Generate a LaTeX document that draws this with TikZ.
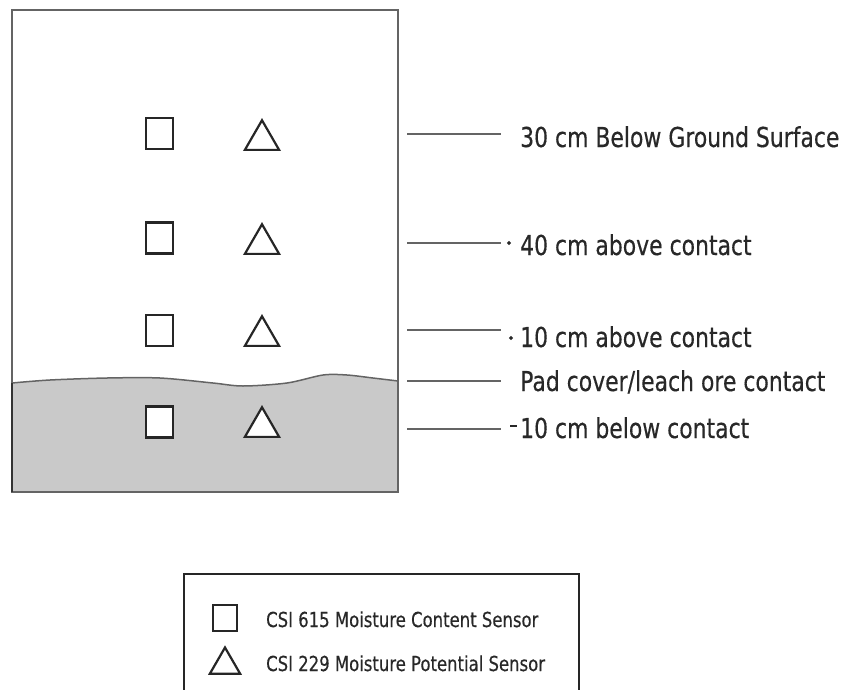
\documentclass[tikz,border=0pt]{standalone}
\usepackage{fontspec}
\setmainfont{DejaVu Sans}
\newfontfamily\labfont[FakeStretch=0.8,FakeBold=0.4]{DejaVu Sans}
\usetikzlibrary{shapes.geometric}
\definecolor{ground}{RGB}{201,201,201}
\definecolor{edge}{RGB}{100,100,100}
\definecolor{txt}{RGB}{40,40,40}
\begin{document}
\begin{tikzpicture}[x=1pt,y=-1pt,
  lab/.style={anchor=base west,inner sep=0pt,text=txt,font=\labfont\fontsize{27.4}{30}\selectfont},
  leg/.style={anchor=base west,inner sep=0pt,text=txt,font=\labfont\fontsize{20.6}{24}\selectfont},
  leader/.style={draw=edge,line width=1.5pt},
  sq/.style={draw=black!85,fill=white,line width=2.2pt,minimum width=27pt,minimum height=31pt,inner sep=0pt,outer sep=0pt},
  tri/.style={regular polygon,regular polygon sides=3,draw=black!85,fill=white,line width=2.2pt,minimum size=39.5pt,inner sep=0pt,outer sep=0pt},
  legsq/.style={sq,minimum width=24pt,minimum height=26pt},
  legtri/.style={tri,minimum size=35pt},
  tick/.style={fill=txt}
]
\useasboundingbox (0,0) rectangle (847,689);
% ground fill and contact line
\fill[ground] plot[smooth] coordinates {(12,383) (50,380) (107,378) (160,378) (213,383) (243,386) (287,383) (323,375) (347,375) (373,378) (398,381)} -- (398,492) -- (12,492) -- cycle;
\draw[edge,line width=1.5pt] plot[smooth] coordinates {(12,383) (50,380) (107,378) (160,378) (213,383) (243,386) (287,383) (323,375) (347,375) (373,378) (398,381)};
% column outline
\draw[edge,line width=1.8pt] (12,10) rectangle (398,492);
\draw[black!80,line width=1.8pt] (12,383) -- (12,492);
% sensors
\node[sq] (s1) at (159.5,133.5) {};
\node[sq] (s2) at (159.5,238) {};
\node[sq] (s3) at (159.5,330.5) {};
\node[sq] (s4) at (159.5,422) {};
\node[tri] (t1) at (262,140) {};
\node[tri] (t2) at (262,244) {};
\node[tri] (t3) at (262,336) {};
\node[tri] (t4) at (262,427) {};
% labels
\node[lab] (l1) at (520,147) {30 cm Below Ground Surface};
\node[lab] (l2) at (520,255) {40 cm above contact};
\node[lab] (l3) at (520,347) {10 cm above contact};
\node[lab] (l4) at (520,391) {Pad cover/leach ore contact};
\node[lab] (l5) at (520,438) {10 cm below contact};
% leader lines
\coordinate (a1) at (407,134); \coordinate (b1) at (501,134);
\coordinate (a2) at (407,243); \coordinate (b2) at (501,243);
\coordinate (a3) at (407,330); \coordinate (b3) at (501,330);
\coordinate (a4) at (407,381); \coordinate (b4) at (501,381);
\coordinate (a5) at (407,429); \coordinate (b5) at (501,429);
\foreach \i in {1,...,5} {\draw[leader] (a\i) -- (b\i);}
\fill[tick] (509,240.8) -- (511.2,243) -- (509,245.2) -- (506.8,243) -- cycle;
\fill[tick] (511,335.8) -- (513.2,338) -- (511,340.2) -- (508.8,338) -- cycle;
\draw[txt,line width=1.4pt] (510,426) -- (517,426);
% legend
\draw[black!85,line width=2pt] (184,695) -- (184,574) -- (579,574) -- (579,695);
\node[legsq] (ls) at (225,618) {};
\node[legtri] (lt) at (225,665) {};
\node[leg] (lsl) at (266,627) {CSI 615 Moisture Content Sensor};
\node[leg] (ltl) at (266,671) {CSI 229 Moisture Potential Sensor};
\end{tikzpicture}
\end{document}
